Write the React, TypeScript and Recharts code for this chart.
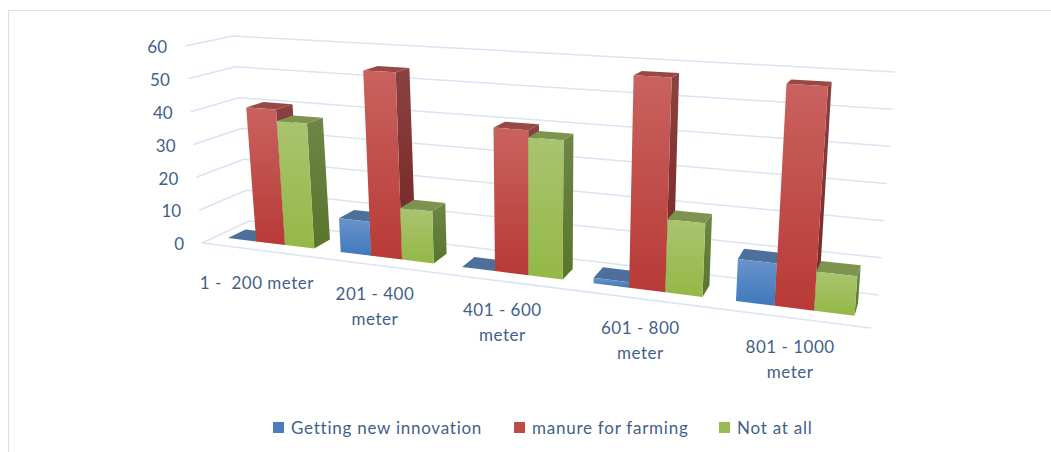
import { BarChart, Bar, XAxis, YAxis, CartesianGrid, Legend } from 'recharts';

const categories = ['1 -  200 meter', '201 - 400 meter', '401 - 600 meter', '601 - 800 meter', '801 - 1000 meter'];
const innovation = [0, 10, 0, 1.5, 11];
const manure = [41, 54.5, 40.5, 57.5, 57.5];
const notAtAll = [37.5, 15, 38.5, 19.5, 10];
const valueTicks = [0, 10, 20, 30, 40, 50, 60];

const data = categories.map((name, i) => ({
  name,
  innovation: innovation[i],
  manure: manure[i],
  notAtAll: notAtAll[i],
}));

const WIDTH = 1051;
const HEIGHT = 452;

// plot rectangle the flat scales live in, before going through the box projection
const PLOT = { left: 200, right: 880, top: 40, bottom: 300 };
const AXIS_W = 60;
const AXIS_H = 30;

// corners of the 3D box on screen: F front, B back, L/R left/right, 0/T floor/top
const FL0 = [202, 243];
const FLT = [185, 46];
const FR0 = [871, 328];
const FRT = [889, 83];
const BL0 = [249, 221];
const BLT = [233, 36];
const BR0 = [879, 295];
const BRT = [895, 72];

const PERSPECTIVE = 1.22;
const DEPTH_FRONT = 0.3;
const DEPTH_BACK = 0.68;

const TEXT = '#3f5f8c';
const FONT = 'Lato, "Open Sans", sans-serif';

const lerp = (a: number, b: number, t: number) => a + (b - a) * t;

function project(u: number, v: number, d: number): [number, number] {
  const t = u / (u + PERSPECTIVE * (1 - u));
  const out = [0, 1].map((k) => {
    const front = lerp(lerp(FL0[k], FR0[k], t), lerp(FLT[k], FRT[k], t), v);
    const back = lerp(lerp(BL0[k], BR0[k], t), lerp(BLT[k], BRT[k], t), v);
    return lerp(front, back, d);
  });
  return [out[0], out[1]];
}

const toU = (x: number) => (x - PLOT.left) / (PLOT.right - PLOT.left);
const toV = (y: number) => (PLOT.bottom - y) / (PLOT.bottom - PLOT.top);
const path = (points: [number, number][]) => points.map((p) => p.map((n) => n.toFixed(1)).join(',')).join(' ');

function box3d(key: string) {
  return function Box3D({ x, y, width, height }: any) {
    const u0 = toU(x);
    const u1 = toU(x + width);
    const vTop = toV(y);
    const vBot = toV(y + height);
    const front = [
      project(u0, vTop, DEPTH_FRONT),
      project(u1, vTop, DEPTH_FRONT),
      project(u1, vBot, DEPTH_FRONT),
      project(u0, vBot, DEPTH_FRONT),
    ];
    const side = [
      project(u1, vTop, DEPTH_FRONT),
      project(u1, vTop, DEPTH_BACK),
      project(u1, vBot, DEPTH_BACK),
      project(u1, vBot, DEPTH_FRONT),
    ];
    const top = [
      project(u0, vTop, DEPTH_FRONT),
      project(u1, vTop, DEPTH_FRONT),
      project(u1, vTop, DEPTH_BACK),
      project(u0, vTop, DEPTH_BACK),
    ];
    return (
      <g>
        <polygon points={path(side)} fill={`url(#${key}-side)`} />
        <polygon points={path(top)} fill={`url(#${key}-top)`} />
        <polygon points={path(front)} fill={`url(#${key}-front)`} />
      </g>
    );
  };
}

function GridLine({ y1 }: any) {
  const v = toV(y1);
  const pts = [project(0, v, 0), project(0, v, 1), project(1, v, 1)];
  return (
    <g>
      <polyline points={path(pts)} fill="none" stroke="#d8e4f3" strokeWidth={1.5} />
      {v < 0.001 && <polyline points={path([project(0, 0, 0), project(1, 0, 0)])} fill="none" stroke="#d8e4f3" strokeWidth={1.5} />}
    </g>
  );
}

function ValueTick({ y, payload }: any) {
  const [px, py] = project(0, toV(y), 0);
  return (
    <text x={px - 18} y={py + 3} textAnchor="end" dominantBaseline="middle" fill={TEXT} fontFamily={FONT} fontSize={17}>
      {payload.value}
    </text>
  );
}

function CategoryTick({ payload, index }: any) {
  const [px, py] = project(toU(payload.coordinate), 0, 0);
  const label: string = payload.value;
  const lines = index === 0 ? [label] : [label.replace(' meter', ''), 'meter'];
  const cx = px - 1;
  const cy = py + (index === 0 ? 33 : 29);
  return (
    <text textAnchor="middle" fill={TEXT} fontFamily={FONT} fontSize={17} letterSpacing={0.5} style={{ whiteSpace: 'pre' }}>
      {lines.map((line, i) => (
        <tspan key={i} x={cx} y={cy + 6 + i * 25}>
          {line}
        </tspan>
      ))}
    </text>
  );
}

function ChartLegend({ payload }: any) {
  const lefts = [273, 514, 719];
  return (
    <div style={{ position: 'relative', height: 24 }}>
      {payload.map((entry: any, i: number) => (
        <div
          key={entry.value}
          style={{ position: 'absolute', left: lefts[i], top: 0, display: 'flex', alignItems: 'center', whiteSpace: 'nowrap' }}
        >
          <span style={{ width: 11, height: 11, background: entry.color, marginRight: 7 }} />
          <span style={{ color: TEXT, fontFamily: FONT, fontSize: 17, letterSpacing: 0.75 }}>{entry.value}</span>
        </div>
      ))}
    </div>
  );
}

function Ramp({ id, from, to }: { id: string; from: string; to: string }) {
  return (
    <linearGradient id={id} x1="0" y1="0" x2="0" y2="1">
      <stop offset="0%" stopColor={from} />
      <stop offset="100%" stopColor={to} />
    </linearGradient>
  );
}

export default function App() {
  return (
    <div style={{ position: 'absolute', left: 0, top: 0, width: WIDTH, height: HEIGHT, background: '#fff', overflow: 'hidden' }}>
      <div style={{ position: 'absolute', left: 8, top: 10, right: -4, bottom: -4, border: '1.5px solid #d5e2f2' }} />
      <BarChart
        width={WIDTH}
        height={HEIGHT}
        data={data}
        barCategoryGap="11%"
        barGap={0}
        margin={{ left: PLOT.left - AXIS_W, right: WIDTH - PLOT.right, top: PLOT.top, bottom: HEIGHT - PLOT.bottom - AXIS_H }}
      >
        <defs>
          <Ramp id="innovation-front" from="#6a94cb" to="#3f78bd" />
          <Ramp id="innovation-side" from="#3f628f" to="#2f5688" />
          <Ramp id="innovation-top" from="#4d6f9c" to="#4d6f9c" />
          <Ramp id="manure-front" from="#c9625f" to="#b83a36" />
          <Ramp id="manure-side" from="#8a4240" to="#742523" />
          <Ramp id="manure-top" from="#984946" to="#984946" />
          <Ramp id="notAtAll-front" from="#a9c46f" to="#95b847" />
          <Ramp id="notAtAll-side" from="#6d8646" to="#59752b" />
          <Ramp id="notAtAll-top" from="#7c944f" to="#7c944f" />
        </defs>
        <CartesianGrid vertical={false} horizontal={(p: any) => <GridLine key={p.key ?? p.index} {...p} />} />
        <XAxis dataKey="name" height={AXIS_H} interval={0} axisLine={false} tickLine={false} tick={CategoryTick} />
        <YAxis width={AXIS_W} domain={[0, 60]} ticks={valueTicks} axisLine={false} tickLine={false} tick={ValueTick} />
        <Legend
          layout="horizontal"
          align="center"
          verticalAlign="middle"
          itemSorter={null}
          wrapperStyle={{ top: 417, left: 0, width: WIDTH }}
          content={ChartLegend}
        />
        <Bar dataKey="innovation" name="Getting new innovation" fill="#4a7ebb" shape={box3d('innovation')} isAnimationActive={false} />
        <Bar dataKey="manure" name="manure for farming" fill="#be4b48" shape={box3d('manure')} isAnimationActive={false} />
        <Bar dataKey="notAtAll" name="Not at all" fill="#98b954" shape={box3d('notAtAll')} isAnimationActive={false} />
      </BarChart>
    </div>
  );
}
